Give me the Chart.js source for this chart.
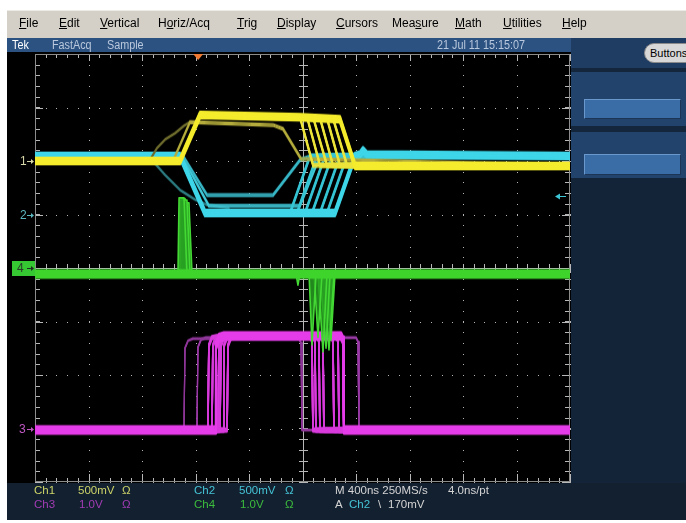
<!DOCTYPE html>
<html>
<head>
<meta charset="utf-8">
<script src="https://cdn.jsdelivr.net/npm/chart.js@4/dist/chart.umd.min.js"></script>
<style>
  html, body { margin: 0; padding: 0; background: #fff; }
  #wrap { position: relative; width: 686px; height: 523px; overflow: hidden; background: #fff;
          font-family: "Liberation Sans", Arial, sans-serif; }
  .box { position: absolute; }
  .t { position: absolute; white-space: nowrap; line-height: 14px; z-index: 3; }
  #menu { left: 7px; top: 10px; width: 679px; height: 28px; background: #d4d0c8; border-top: 1px solid #ecebe6; box-sizing: border-box; }
  .m { font-size: 12px; color: #000; top: 16px; }
  #status { left: 7px; top: 38px; width: 564px; height: 14px; background: #2c5282; }
  .s { font-size: 12px; color: #b9c8dc; top: 38px; transform: scaleX(0.9); transform-origin: left center; }
  #scope { left: 7px; top: 52px; width: 564px; height: 431px; background: #000; }
  #readout { left: 7px; top: 483px; width: 679px; height: 37px; background: #132030; }
  .r { font-size: 11.5px; }
  #panel { left: 571px; top: 38px; width: 115px; height: 445px; background: #142438; }
  .sec { position: absolute; left: 0; width: 115px; background: #22446c; }
  .sep { position: absolute; left: 0; width: 115px; background: #13263c; }
  .field { position: absolute; left: 13px; width: 97px; background: #3a6ca6;
           border-top: 1px solid #6a98cc; border-left: 1px solid #6a98cc;
           border-bottom: 1px solid #1c3556; border-right: 1px solid #1c3556; box-sizing: border-box; }
  #btn { position: absolute; left: 73px; top: 5px; width: 60px; height: 20px; border-radius: 10px;
         background: #d8d8d8; border: 1px solid #8a8a8a; box-sizing: border-box;
         font-size: 11px; line-height: 18px; color: #000; padding-left: 5px; }
  #chart { position: absolute; left: 0; top: 0; z-index: 2; }
  .mk { position: absolute; z-index: 3; font-size: 12px; line-height: 14px; }
  #mk4 { position: absolute; z-index: 1; left: 12px; width: 23px; height: 15px; background: #36c832; }
</style>
</head>
<body>
<div id="wrap">
  <div id="menu" class="box"></div>
  <span class="t m" style="left:19px"><u>F</u>ile</span>
  <span class="t m" style="left:59px"><u>E</u>dit</span>
  <span class="t m" style="left:100px"><u>V</u>ertical</span>
  <span class="t m" style="left:158px">H<u>o</u>riz/Acq</span>
  <span class="t m" style="left:237px"><u>T</u>rig</span>
  <span class="t m" style="left:277px"><u>D</u>isplay</span>
  <span class="t m" style="left:336px"><u>C</u>ursors</span>
  <span class="t m" style="left:392px">Mea<u>s</u>ure</span>
  <span class="t m" style="left:455px"><u>M</u>ath</span>
  <span class="t m" style="left:503px"><u>U</u>tilities</span>
  <span class="t m" style="left:562px"><u>H</u>elp</span>

  <div id="status" class="box"></div>
  <span class="t s" style="left:12px;color:#ffffff">Tek</span>
  <span class="t s" style="left:52px">FastAcq</span>
  <span class="t s" style="left:107px">Sample</span>
  <span class="t s" style="left:437px">21 Jul 11 15:15:07</span>

  <div id="scope" class="box"></div>

  <div id="panel" class="box">
    <div class="sec" style="top:0;height:30px;background:#1f3c62"></div>
    <div id="btn">Buttons</div>
    <div class="sep" style="top:30px;height:4px"></div>
    <div class="sec" style="top:34px;height:54px"></div>
    <div class="field" style="top:61px;height:20px"></div>
    <div class="sep" style="top:88px;height:6px"></div>
    <div class="sec" style="top:94px;height:46px"></div>
    <div class="field" style="top:116px;height:21px"></div>
  </div>

  <div id="readout" class="box"></div>
  <span class="t r" style="left:34px;top:483px;color:#cdd468">Ch1</span>
  <span class="t r" style="left:78px;top:483px;color:#cdd468">500mV</span>
  <span class="t r" style="left:122px;top:483px;color:#cdd468">Ω</span>
  <span class="t r" style="left:194px;top:483px;color:#45c4d6">Ch2</span>
  <span class="t r" style="left:239px;top:483px;color:#45c4d6">500mV</span>
  <span class="t r" style="left:285px;top:483px;color:#45c4d6">Ω</span>
  <span class="t r" style="left:335px;top:483px;color:#d4d4d4">M 400ns 250MS/s</span>
  <span class="t r" style="left:448px;top:483px;color:#d4d4d4">4.0ns/pt</span>
  <span class="t r" style="left:34px;top:497px;color:#a23cb4">Ch3</span>
  <span class="t r" style="left:79px;top:497px;color:#a23cb4">1.0V</span>
  <span class="t r" style="left:122px;top:497px;color:#a23cb4">Ω</span>
  <span class="t r" style="left:194px;top:497px;color:#3cbc3c">Ch4</span>
  <span class="t r" style="left:240px;top:497px;color:#3cbc3c">1.0V</span>
  <span class="t r" style="left:285px;top:497px;color:#3cbc3c">Ω</span>
  <span class="t r" style="left:335px;top:497px;color:#d4d4d4">A</span>
  <span class="t r" style="left:349px;top:497px;color:#45c4d6">Ch2</span>
  <span class="t r" style="left:378px;top:497px;color:#d4d4d4">\</span>
  <span class="t r" style="left:388px;top:497px;color:#d4d4d4">170mV</span>

  <div id="mk4"></div>
  <span id="lab1" class="mk" style="left:20px;color:#d6d6a8">1</span>
  <span id="lab2" class="mk" style="left:20px;color:#5cb8c0">2</span>
  <span id="lab4" class="mk" style="left:17px;color:#2a3a2a">4</span>
  <span id="lab3" class="mk" style="left:19px;color:#c058c4">3</span>

  <canvas id="chart" width="686" height="523"></canvas>
</div>

<script>
// Horizontal: 400 ns/div, 10 divisions. Vertical: 8 divisions.
const TIME_MIN = -1200;
const TIME_MAX = 2800;
const TIME_PER_DIV = 400;
const DIV_MIN = -4;
const DIV_MAX = 4;
const TRIGGER_TIME = 20;          // ns, horizontal trigger point
const TRIGGER_LEVEL = 0.17;       // V on Ch2

// Channel setup: volts per division and screen position (div)
const ch1Scale = 0.5, ch1Pos = 2;
const ch2Scale = 0.5, ch2Pos = 1;
const ch3Scale = 1.0, ch3Pos = -3;
const ch4Scale = 1.0, ch4Pos = 0;

// Ch1 acquisitions (time ns / volts); first one is the dominant trace
const ch1Times = [
  [-1200, -116, 34, 781, 1080, 1193, 2800],
  [-1200, -116, 34, 781, 879, 2800],
  [-1200, -116, 34, 834, 931, 2800],
  [-1200, -116, 34, 879, 983, 2800],
  [-1200, -116, 34, 931, 1028, 2800],
  [-1200, -116, 34, 983, 1080, 2800],
  [-1200, -116, 34, 1028, 1133, 2800],
  [-1200, -168, -41, 580, 654, 789, 2800],
  [-340, -288, -228, -153, -86, -41]
];
const ch1Volts = [
  [0, 0, 0.43, 0.41, 0.39, -0.047, -0.047],
  [0, 0, 0.43, 0.41, -0.04, -0.047],
  [0, 0, 0.43, 0.41, -0.04, -0.047],
  [0, 0, 0.43, 0.41, -0.04, -0.047],
  [0, 0, 0.43, 0.40, -0.04, -0.047],
  [0, 0, 0.43, 0.40, -0.04, -0.047],
  [0, 0, 0.43, 0.40, -0.04, -0.047],
  [0, 0, 0.364, 0.336, 0.30, 0.02, -0.04],
  [0.01, 0.12, 0.20, 0.26, 0.33, 0.364]
];

// Ch2 acquisitions
const ch2Times = [
  [-1200, -116, 71, 1043, 1193, 1230, 1252, 1282, 2800],
  [-1200, -116, 71, 707, 856, 2800],
  [-1200, -116, 71, 759, 908, 2800],
  [-1200, -116, 71, 819, 968, 2800],
  [-1200, -116, 71, 871, 1021, 2800],
  [-1200, -116, 71, 931, 1080, 2800],
  [-1200, -116, 71, 983, 1133, 2800],
  [-1200, -93, 86, 580, 781, 860, 2800],
  [-1200, -101, 101, 781, 931, 2800],
  [-340, -228, -116, -4, 86, 250]
];
const ch2Volts = [
  [0.547, 0.547, 0.014, 0.014, 0.547, 0.56, 0.60, 0.56, 0.547],
  [0.547, 0.547, 0.014, 0.014, 0.547, 0.547],
  [0.547, 0.547, 0.014, 0.014, 0.547, 0.547],
  [0.547, 0.547, 0.014, 0.014, 0.547, 0.547],
  [0.547, 0.547, 0.014, 0.014, 0.547, 0.547],
  [0.547, 0.547, 0.014, 0.014, 0.547, 0.547],
  [0.547, 0.547, 0.014, 0.014, 0.547, 0.547],
  [0.547, 0.547, 0.182, 0.182, 0.509, 0.547, 0.547],
  [0.547, 0.547, 0.08, 0.08, 0.547, 0.547],
  [0.53, 0.37, 0.23, 0.14, 0.09, 0.06]
];

// Ch3 acquisitions (pulse with varying rise / fall times)
const ch3Times = [
  [-1200, 146, 153, 176, 213, 1088, 1103, 1110, 2800],
  [-1200, 93, 100, 123, 160, 856, 871, 878, 2800],
  [-1200, 123, 130, 153, 190, 878, 893, 900, 2800],
  [-1200, 168, 175, 198, 235, 908, 923, 930, 2800],
  [-1200, 206, 213, 236, 273, 938, 953, 960, 2800],
  [-1200, 236, 243, 266, 303, 1013, 1028, 1035, 2800],
  [-1200, 183, 190, 213, 250, 1051, 1066, 1073, 2800],
  [-1200, -86, -79, -56, -19, 774, 789, 796, 2800],
  [-1200, 11, 18, 41, 78, 1200, 1215, 1222, 2800]
];
const ch3Volts = [
  [-0.03, -0.03, 1.55, 1.70, 1.73, 1.73, 1.65, -0.03, -0.03],
  [-0.03, -0.03, 1.55, 1.70, 1.72, 1.72, 1.64, -0.03, -0.03],
  [-0.03, -0.03, 1.55, 1.70, 1.72, 1.72, 1.64, -0.03, -0.03],
  [-0.03, -0.03, 1.55, 1.70, 1.72, 1.72, 1.64, -0.03, -0.03],
  [-0.03, -0.03, 1.55, 1.70, 1.72, 1.72, 1.64, -0.03, -0.03],
  [-0.03, -0.03, 1.55, 1.70, 1.72, 1.72, 1.64, -0.03, -0.03],
  [-0.03, -0.03, 1.55, 1.70, 1.72, 1.72, 1.64, -0.03, -0.03],
  [-0.03, -0.03, 1.50, 1.64, 1.68, 1.68, 1.60, -0.03, -0.03],
  [-0.03, -0.03, 1.52, 1.66, 1.70, 1.70, 1.62, -0.03, -0.03]
];

// Ch4 acquisitions: baseline, glitches up near the trigger, dips near the Ch3 fall
const ch4Times = [
  [-1200, 2800],
  [-1200, -131, -123, -86, -64, 2800],
  [-1200, -123, -116, -64, -41, 2800],
  [-1200, -116, -108, -49, -26, 2800],
  [-1200, -108, -101, -78, -56, 2800],
  [-1200, 751, 766, 781, 2800],
  [-1200, 849, 871, 901, 2800],
  [-1200, 886, 916, 946, 2800],
  [-1200, 916, 953, 983, 2800],
  [-1200, 931, 976, 1006, 2800],
  [-1200, 953, 998, 1036, 2800],
  [-1200, 976, 1013, 1043, 2800]
];
const ch4Volts = [
  [-0.11, -0.11],
  [-0.11, -0.11, 1.31, 1.31, -0.11, -0.11],
  [-0.11, -0.11, 1.27, 1.27, -0.11, -0.11],
  [-0.11, -0.11, 1.22, 1.22, -0.11, -0.11],
  [-0.11, -0.11, 1.30, 1.30, -0.11, -0.11],
  [-0.11, -0.11, -0.32, -0.11, -0.11],
  [-0.11, -0.11, -1.44, -0.11, -0.11],
  [-0.11, -0.11, -1.30, -0.11, -0.11],
  [-0.11, -0.11, -1.57, -0.11, -0.11],
  [-0.11, -0.11, -1.50, -0.11, -0.11],
  [-0.11, -0.11, -1.53, -0.11, -0.11],
  [-0.11, -0.11, -1.35, -0.11, -0.11]
];
const ch4Baseline = -0.11;

// Trace appearance per acquisition: [colour, line width, vertical noise band (px)]
const ch1Looks = [['#f4ec2c', 2, 6], ['#ece43a', 1.4, 3], ['#ece43a', 1.4, 3], ['#ece43a', 1.4, 3],
                  ['#ece43a', 1.4, 3], ['#ece43a', 1.4, 3], ['#ece43a', 1.4, 3],
                  ['#b4ac3c', 1.2, 2], ['#6c6a2c', 1.2, 1]];
const ch2Looks = [['#3ed6e8', 2, 6], ['#36c4d4', 1.4, 3], ['#36c4d4', 1.4, 3], ['#36c4d4', 1.4, 3],
                  ['#36c4d4', 1.4, 3], ['#36c4d4', 1.4, 3], ['#36c4d4', 1.4, 3],
                  ['#38b8c8', 1.2, 2], ['#40c8d8', 1.2, 2], ['#2c7a80', 1.2, 1]];
const ch3Looks = [['#e43ce8', 2, 7], ['#d83adc', 1.6, 3], ['#d83adc', 1.6, 3], ['#d83adc', 1.6, 3],
                  ['#d83adc', 1.6, 3], ['#d83adc', 1.6, 3], ['#d83adc', 1.6, 3],
                  ['#8e3698', 1.2, 1], ['#9a3aa6', 1.2, 1]];
const ch4Looks = [['#3ed42c', 2, 7], ['#44d834', 1.6, 0], ['#44d834', 1.6, 0], ['#44d834', 1.6, 0],
                  ['#44d834', 1.6, 0], ['#44d834', 1.6, 0], ['#44d834', 1.6, 0], ['#44d834', 1.6, 0],
                  ['#44d834', 1.6, 0], ['#44d834', 1.6, 0], ['#44d834', 1.6, 0], ['#44d834', 1.6, 0]];

function channelDatasets(times, volts, looks, scale, pos, order, fillTo) {
  return times.map((ts, i) => ({
    data: ts.map((t, k) => ({ x: t, y: pos + volts[i][k] / scale })),
    borderColor: looks[i][0],
    borderWidth: looks[i][1],
    band: looks[i][2],
    fill: (fillTo !== undefined && i > 0) ? { value: pos + fillTo / scale } : false,
    backgroundColor: 'rgba(40,160,34,0.85)',
    order: order,
    pointRadius: 0,
    tension: 0
  }));
}

const datasets = [
  ...channelDatasets(ch4Times, ch4Volts, ch4Looks, ch4Scale, ch4Pos, 1, ch4Baseline),
  ...channelDatasets(ch1Times, ch1Volts, ch1Looks, ch1Scale, ch1Pos, 2),
  ...channelDatasets(ch2Times, ch2Volts, ch2Looks, ch2Scale, ch2Pos, 3),
  ...channelDatasets(ch3Times, ch3Volts, ch3Looks, ch3Scale, ch3Pos, 4)
];

// Persistence look: repeat each trace over a small vertical band
const traceBand = {
  id: 'traceBand',
  beforeDatasetDraw(chart, args) {
    const ds = chart.data.datasets[args.index];
    const band = ds.band || 0;
    if (!band) return;
    const ctx = chart.ctx, a = chart.chartArea, line = args.meta.dataset;
    ctx.save();
    ctx.beginPath();
    ctx.rect(a.left, a.top, a.right - a.left, a.bottom - a.top);
    ctx.clip();
    const h = band / 2;
    for (let dy = -h - 1; dy <= h + 1; dy += 1) {
      if (dy === 0) continue;
      ctx.globalAlpha = Math.abs(dy) > h ? 0.35 : 1;
      ctx.save();
      ctx.translate(0, dy);
      line.draw(ctx, a);
      ctx.restore();
    }
    ctx.restore();
  }
};

// Graticule: dotted division lines, centre cross and edge ticks
const graticule = {
  id: 'graticule',
  beforeDatasetsDraw(chart) {
    const { ctx, chartArea: a, scales: { x, y } } = chart;
    const minorT = [], minorD = [];
    for (let t = TIME_MIN; t <= TIME_MAX + 1e-6; t += TIME_PER_DIV / 5) minorT.push(t);
    for (let d = DIV_MIN; d <= DIV_MAX + 1e-6; d += 0.2) minorD.push(d);
    const majorT = [], majorD = [];
    for (let t = TIME_MIN; t <= TIME_MAX + 1e-6; t += TIME_PER_DIV) majorT.push(t);
    for (let d = DIV_MIN; d <= DIV_MAX + 1e-6; d += 1) majorD.push(d);
    const xc = Math.round(x.getPixelForValue((TIME_MIN + TIME_MAX) / 2));
    const yc = Math.round(y.getPixelForValue(0));
    ctx.save();
    ctx.fillStyle = '#b4b4b4';
    majorT.forEach(t => {
      const px = Math.round(x.getPixelForValue(t));
      minorD.forEach(d => ctx.fillRect(px, Math.round(y.getPixelForValue(d)), 1, 1));
    });
    majorD.forEach(d => {
      const py = Math.round(y.getPixelForValue(d));
      minorT.forEach(t => ctx.fillRect(Math.round(x.getPixelForValue(t)), py, 1, 1));
    });
    ctx.strokeStyle = '#b8b8b8';
    ctx.lineWidth = 1;
    ctx.beginPath();
    ctx.moveTo(xc + 0.5, a.top); ctx.lineTo(xc + 0.5, a.bottom);
    ctx.moveTo(a.left, yc + 0.5); ctx.lineTo(a.right, yc + 0.5);
    minorD.forEach(d => {
      const py = Math.round(y.getPixelForValue(d)) + 0.5;
      ctx.moveTo(xc - 4, py); ctx.lineTo(xc + 5, py);
      ctx.moveTo(a.left, py); ctx.lineTo(a.left + 5, py);
      ctx.moveTo(a.right - 5, py); ctx.lineTo(a.right, py);
    });
    minorT.forEach(t => {
      const px = Math.round(x.getPixelForValue(t)) + 0.5;
      ctx.moveTo(px, yc - 4); ctx.lineTo(px, yc + 5);
      ctx.moveTo(px, a.top); ctx.lineTo(px, a.top + 4);
      ctx.moveTo(px, a.bottom); ctx.lineTo(px, a.bottom - 4);
    });
    majorT.forEach(t => {
      const px = Math.round(x.getPixelForValue(t)) + 0.5;
      ctx.moveTo(px, a.top); ctx.lineTo(px, a.top + 7);
      ctx.moveTo(px, a.bottom); ctx.lineTo(px, a.bottom - 8);
    });
    majorD.forEach(d => {
      const py = Math.round(y.getPixelForValue(d)) + 0.5;
      ctx.moveTo(a.left, py); ctx.lineTo(a.left + 8, py);
      ctx.moveTo(a.right - 8, py); ctx.lineTo(a.right, py);
    });
    ctx.stroke();
    ctx.strokeStyle = '#8c8c8c';
    ctx.strokeRect(a.left + 0.5, a.top + 0.5, a.right - a.left - 1, a.bottom - a.top - 1);
    ctx.restore();
  },
  afterDraw(chart) {
    const { ctx, chartArea: a, scales: { x, y } } = chart;
    ctx.save();
    // trigger position
    const tx = x.getPixelForValue(TRIGGER_TIME);
    ctx.fillStyle = '#f07a34';
    ctx.beginPath();
    ctx.moveTo(tx - 5, a.top); ctx.lineTo(tx + 5, a.top); ctx.lineTo(tx, a.top + 6);
    ctx.closePath(); ctx.fill();
    // trigger level on Ch2
    const ty = Math.round(y.getPixelForValue(ch2Pos + TRIGGER_LEVEL / ch2Scale)) + 0.5;
    ctx.strokeStyle = '#3cc6d6'; ctx.fillStyle = '#3cc6d6'; ctx.lineWidth = 1;
    ctx.beginPath(); ctx.moveTo(a.right - 4, ty); ctx.lineTo(a.right - 13, ty); ctx.stroke();
    ctx.beginPath(); ctx.moveTo(a.right - 15, ty); ctx.lineTo(a.right - 10, ty - 3); ctx.lineTo(a.right - 10, ty + 3);
    ctx.closePath(); ctx.fill();
    // channel ground markers
    [[ch1Pos, '#d6d6a8'], [ch2Pos, '#5cb8c0'], [ch4Pos, '#1e2e1e'], [ch3Pos, '#c058c4']].forEach(([p, c]) => {
      const py = Math.round(y.getPixelForValue(p)) + 0.5;
      ctx.strokeStyle = c; ctx.fillStyle = c;
      ctx.beginPath(); ctx.moveTo(a.left - 8, py); ctx.lineTo(a.left - 3, py); ctx.stroke();
      ctx.beginPath(); ctx.moveTo(a.left - 1, py); ctx.lineTo(a.left - 4, py - 2.5); ctx.lineTo(a.left - 4, py + 2.5);
      ctx.closePath(); ctx.fill();
    });
    ctx.restore();
  }
};

const chart = new Chart(document.getElementById('chart'), {
  type: 'line',
  data: { datasets },
  options: {
    responsive: false,
    animation: false,
    devicePixelRatio: 1,
    layout: { padding: { left: 35, top: 54, right: 116, bottom: 41 } },
    scales: {
      x: { type: 'linear', min: TIME_MIN, max: TIME_MAX, display: false },
      y: { type: 'linear', min: DIV_MIN, max: DIV_MAX, display: false }
    },
    plugins: { legend: { display: false }, tooltip: { enabled: false } },
    elements: { point: { radius: 0 }, line: { borderJoinStyle: 'round', borderCapStyle: 'round' } }
  },
  plugins: [graticule, traceBand]
});

// Place the channel labels at their ground positions
const ys = chart.scales.y;
[['lab1', ch1Pos], ['lab2', ch2Pos], ['lab4', ch4Pos], ['lab3', ch3Pos]].forEach(([id, p]) => {
  document.getElementById(id).style.top = (ys.getPixelForValue(p) - 7) + 'px';
});
document.getElementById('mk4').style.top = (ys.getPixelForValue(ch4Pos) - 7) + 'px';
</script>
</body>
</html>
